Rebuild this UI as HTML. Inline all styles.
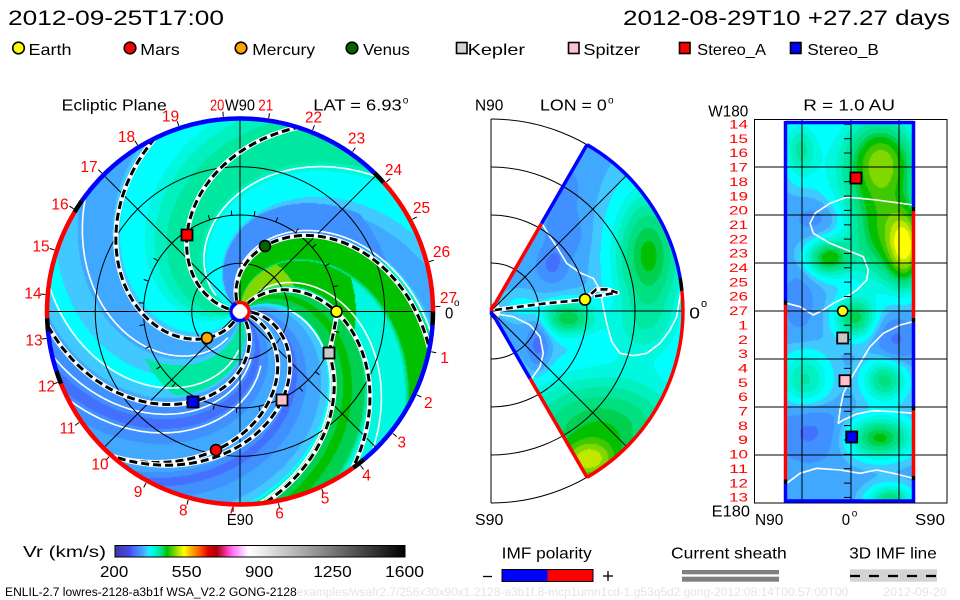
<!DOCTYPE html>
<html><head><meta charset="utf-8"><title>ENLIL</title>
<style>
html,body{margin:0;padding:0;background:#fff;}
#wrap{position:relative;width:960px;height:600px;overflow:hidden;background:#fff;}
#cv,#sv{position:absolute;left:0;top:0;}
#sv text{font-family:"Liberation Sans",Arial,sans-serif;}
</style></head><body>
<div id="wrap">
<canvas id="cv" width="960" height="600"></canvas>
<svg id="sv" width="960" height="600" viewBox="0 0 960 600" xmlns="http://www.w3.org/2000/svg">
<defs>
<clipPath id="disk"><circle cx="240" cy="311.5" r="193.5"/></clipPath>
<linearGradient id="cb" x1="0" x2="1" y1="0" y2="0">
<stop offset="0" stop-color="#3a3a9a"/>
<stop offset="0.021" stop-color="#4040c0"/>
<stop offset="0.05" stop-color="#4848f0"/>
<stop offset="0.071" stop-color="#4878ff"/>
<stop offset="0.093" stop-color="#40a0ff"/>
<stop offset="0.111" stop-color="#40d0ff"/>
<stop offset="0.121" stop-color="#00ffff"/>
<stop offset="0.143" stop-color="#00f0c0"/>
<stop offset="0.161" stop-color="#00e080"/>
<stop offset="0.179" stop-color="#00c000"/>
<stop offset="0.2" stop-color="#60d000"/>
<stop offset="0.221" stop-color="#c0e800"/>
<stop offset="0.239" stop-color="#ffff00"/>
<stop offset="0.257" stop-color="#ffc000"/>
<stop offset="0.279" stop-color="#ff8000"/>
<stop offset="0.3" stop-color="#ff4000"/>
<stop offset="0.321" stop-color="#e00000"/>
<stop offset="0.35" stop-color="#b00000"/>
<stop offset="0.371" stop-color="#d02060"/>
<stop offset="0.389" stop-color="#ff40c0"/>
<stop offset="0.411" stop-color="#ff80ff"/>
<stop offset="0.436" stop-color="#ffc0ff"/>
<stop offset="0.461" stop-color="#ffffff"/>
<stop offset="0.5" stop-color="#f0f0f0"/>
<stop offset="1" stop-color="#000000"/>
</linearGradient>
</defs>

<g id="g1" clip-path="url(#disk)"></g>

<g stroke="#000" stroke-width="1" fill="none">
<circle cx="240" cy="311.5" r="48.25"/>
<circle cx="240" cy="311.5" r="96.5"/>
<circle cx="240" cy="311.5" r="144.75"/>
<line x1="46.5" y1="311.5" x2="433.5" y2="311.5"/>
<line x1="240" y1="118" x2="240" y2="505"/>
<line x1="103.2" y1="174.7" x2="376.8" y2="448.3"/>
<line x1="103.2" y1="448.3" x2="376.8" y2="174.7"/>
</g>

<g id="g2"></g>

<g fill="none" stroke="#fff" stroke-width="1.6" stroke-linejoin="round">
<polyline points="541.7,223.3 550,236.7 556.7,246.7 566.7,263.3 580,272.7 593.3,278.3 600,290 603.3,306.7 606.7,323.3 611.7,341.7 620,353.3 633.3,355.7 646.7,353.3 660,343.3 670,330 676.7,316.7 680,296.7 681.7,286.7"/>
<polyline points="496.7,314 513.3,316.7 530,325 540,336.7 543.3,353.3 540,366.7 531.7,378.3"/>
</g>
<g stroke="#000" stroke-width="1" fill="none">
<path d="M491,263 A48,48 0 0 1 491,359"/>
<path d="M491,215 A96,96 0 0 1 491,407"/>
<path d="M491,167 A144,144 0 0 1 491,455"/>
<path d="M491,119 A192,192 0 0 1 491,503"/>
<line x1="491" y1="119" x2="491" y2="503"/>
<line x1="491" y1="311" x2="683" y2="311"/>
<line x1="491" y1="311" x2="626.8" y2="175.2"/>
<line x1="491" y1="311" x2="626.8" y2="446.8"/>
</g>
<g fill="none" stroke-width="3.5" stroke-linecap="butt">
<line x1="496" y1="302.3" x2="541.5" y2="223.5" stroke="#f00"/>
<line x1="541.5" y1="223.5" x2="587" y2="144.7" stroke="#00f"/>
<path d="M587,144.7 A192,192 0 0 1 680.2,278.3" stroke="#00f"/>
<path d="M680.2,278.3 A192,192 0 0 1 681.9,290.9" stroke="#000"/>
<path d="M681.9,290.9 A192,192 0 0 1 587,477.3" stroke="#f00"/>
<line x1="587" y1="477.3" x2="530" y2="378.5" stroke="#f00"/>
<line x1="530" y1="378.5" x2="496" y2="319.7" stroke="#00f"/>
<path d="M496,302.3 L491.5,308 L491.5,311" stroke="#f00"/>
<path d="M491.5,311 L491.5,314 L496,319.7" stroke="#00f"/>
</g>
<path d="M495,310 L520,306.7 L546.7,303.3 L573.3,300.7 L585,299.5 L596,289.5 L607,289.3 L617.3,292.7 L606,294.5 L594,296.5" fill="none" stroke="#fff" stroke-width="4.5" stroke-linejoin="round"/>
<path d="M495,310 L520,306.7 L546.7,303.3 L573.3,300.7 L585,299.5 L596,289.5 L607,289.3 L617.3,292.7 L606,294.5 L594,296.5" fill="none" stroke="#000" stroke-width="2.6" stroke-dasharray="7 4"/>
<circle cx="585" cy="299.5" r="5.5" fill="#ffff00" stroke="#000" stroke-width="1.6"/>

<g fill="none" stroke="#fff" stroke-width="1.6" stroke-linejoin="round">
<polyline points="786.7,303.3 800,306.7 813.3,315 823.3,310 833.3,303.3 846.7,296.7 856.7,290 866.7,280 868.3,270 863.3,256.7 846.7,250 830,243.3 813.3,233.3 810,223.3 815,213.3 830,203.3 846.7,197.3 860,198.3 876.7,200 896.7,202.7 913.3,205"/>
<polyline points="913.3,321.7 900,325 883.3,333.3 870,346.7 860,363.3 850,380 843.3,393.3 840,410 838.3,423.3 843.3,420 856.7,414 873.3,410.7 893.3,411.7 913.3,413.3"/>
<polyline points="786.7,483.3 800,473.3 816.7,468.3 840,470 860,473.3 876.7,470 893.3,473.3 913.3,478.3"/>
</g>
<g stroke="#000" stroke-width="1" fill="none">
<rect x="754.5" y="119.5" width="192.5" height="383.5"/>
<line x1="754" y1="167" x2="947" y2="167"/>
<line x1="754" y1="215" x2="947" y2="215"/>
<line x1="754" y1="263" x2="947" y2="263"/>
<line x1="754" y1="311" x2="947" y2="311"/>
<line x1="754" y1="359" x2="947" y2="359"/>
<line x1="754" y1="407" x2="947" y2="407"/>
<line x1="754" y1="455" x2="947" y2="455"/>
<line x1="802" y1="119" x2="802" y2="503"/>
<line x1="851" y1="119" x2="851" y2="503"/>
<line x1="899" y1="119" x2="899" y2="503"/>
</g>
<g id="g3" stroke="#000" stroke-width="1"></g>
<g fill="none" stroke-width="3.5">
<line x1="785.5" y1="122.5" x2="913.5" y2="122.5" stroke="#00f"/>
<line x1="785.5" y1="501" x2="913.5" y2="501" stroke="#00f"/>
<line x1="785.5" y1="121" x2="785.5" y2="300.5" stroke="#00f"/>
<line x1="785.5" y1="300.5" x2="785.5" y2="305" stroke="#000"/>
<line x1="785.5" y1="305" x2="785.5" y2="479.5" stroke="#f00"/>
<line x1="785.5" y1="479.5" x2="785.5" y2="484" stroke="#000"/>
<line x1="785.5" y1="484" x2="785.5" y2="502.5" stroke="#00f"/>
<line x1="913.5" y1="121" x2="913.5" y2="206.7" stroke="#00f"/>
<line x1="913.5" y1="206.7" x2="913.5" y2="211" stroke="#000"/>
<line x1="913.5" y1="211" x2="913.5" y2="318" stroke="#f00"/>
<line x1="913.5" y1="318" x2="913.5" y2="322.7" stroke="#000"/>
<line x1="913.5" y1="322.7" x2="913.5" y2="406.7" stroke="#00f"/>
<line x1="913.5" y1="406.7" x2="913.5" y2="410.7" stroke="#000"/>
<line x1="913.5" y1="410.7" x2="913.5" y2="475.7" stroke="#f00"/>
<line x1="913.5" y1="475.7" x2="913.5" y2="480" stroke="#000"/>
<line x1="913.5" y1="480" x2="913.5" y2="502.5" stroke="#00f"/>
</g>
<g stroke="#000" stroke-width="1.8">
<rect x="850.5" y="172.5" width="11" height="11" fill="#ff0000"/>
<circle cx="842.7" cy="311" r="5" fill="#ffff00" stroke-width="1.6"/>
<rect x="837.2" y="332.5" width="11" height="11" fill="#c8c8c8"/>
<rect x="839.5" y="375.2" width="11" height="11" fill="#ffc0cb"/>
<rect x="846.2" y="431.5" width="11" height="11" fill="#0000ff"/>
</g>

<g stroke="#000" stroke-width="1.6">
<circle cx="336.5" cy="311.5" r="5.5" fill="#ffff00"/>
<circle cx="265" cy="246" r="5.5" fill="#006400"/>
<circle cx="207" cy="338" r="5.5" fill="#ffa500"/>
<circle cx="216" cy="450" r="5.5" fill="#ff0000"/>
<rect x="323.5" y="347.5" width="11" height="11" fill="#c8c8c8" stroke-width="1.8"/>
<rect x="276.5" y="394.5" width="11" height="11" fill="#ffc0cb" stroke-width="1.8"/>
<rect x="181.5" y="229.5" width="11" height="11" fill="#ff0000" stroke-width="1.8"/>
<rect x="187.5" y="396.5" width="11" height="11" fill="#0000ff" stroke-width="1.8"/>
</g>

<text x="8" y="25" font-size="21" textLength="216" lengthAdjust="spacingAndGlyphs">2012-09-25T17:00</text>
<text x="623" y="25" font-size="21" textLength="327" lengthAdjust="spacingAndGlyphs">2012-08-29T10 +27.27 days</text>

<g stroke="#000" stroke-width="1.6">
<circle cx="18.5" cy="48" r="5.8" fill="#ffff00"/>
<circle cx="130" cy="48" r="5.8" fill="#ff0000"/>
<circle cx="241" cy="48" r="5.8" fill="#ffa500"/>
<circle cx="352" cy="48" r="5.8" fill="#006400"/>
<rect x="456.5" y="42.5" width="10.5" height="11" fill="#d3d3d3"/>
<rect x="568.5" y="42.5" width="10.5" height="11" fill="#ffc0cb"/>
<rect x="679.5" y="42.5" width="10.5" height="11" fill="#ff0000"/>
<rect x="790.5" y="42.5" width="10.5" height="11" fill="#0000ff"/>
</g>
<g font-size="16">
<text x="28.5" y="55" textLength="43" lengthAdjust="spacingAndGlyphs">Earth</text>
<text x="140.3" y="55" textLength="39.4" lengthAdjust="spacingAndGlyphs">Mars</text>
<text x="252.3" y="55" textLength="62.7" lengthAdjust="spacingAndGlyphs">Mercury</text>
<text x="363" y="55" textLength="46.8" lengthAdjust="spacingAndGlyphs">Venus</text>
<text x="467.7" y="55" textLength="57.3" lengthAdjust="spacingAndGlyphs">Kepler</text>
<text x="583.4" y="55" textLength="56.6" lengthAdjust="spacingAndGlyphs">Spitzer</text>
<text x="697.2" y="55" textLength="68.8" lengthAdjust="spacingAndGlyphs">Stereo_A</text>
<text x="807.4" y="55" textLength="71.4" lengthAdjust="spacingAndGlyphs">Stereo_B</text>
</g>

<g font-size="16">
<text x="61.7" y="110.7" textLength="105" lengthAdjust="spacingAndGlyphs">Ecliptic Plane</text>
<text x="225" y="110.7" textLength="30" lengthAdjust="spacingAndGlyphs">W90</text>
<text x="210" y="110.7" textLength="14.3" lengthAdjust="spacingAndGlyphs" fill="#f00">20</text>
<text x="258.3" y="110.7" textLength="15" lengthAdjust="spacingAndGlyphs" fill="#f00">21</text>
<text x="313.3" y="110.7" textLength="88.4" lengthAdjust="spacingAndGlyphs">LAT = 6.93</text>
<text x="402.7" y="103.5" font-size="10">o</text>
<text x="445" y="318.3" textLength="8.3" lengthAdjust="spacingAndGlyphs">0</text>
<text x="454" y="306" font-size="10">o</text>
</g>
<g font-size="15.5" fill="#f00" text-anchor="middle">
<text x="33" y="298.5">14</text>
<text x="41" y="251.5">15</text>
<text x="60" y="209.5">16</text>
<text x="89" y="172">17</text>
<text x="126.5" y="141.8">18</text>
<text x="170.5" y="121.5">19</text>
<text x="313.5" y="122.7">22</text>
<text x="356.5" y="143.5">23</text>
<text x="393.5" y="175">24</text>
<text x="421.5" y="213">25</text>
<text x="441.5" y="257.2">26</text>
<text x="448.5" y="303">27</text>
<text x="444.5" y="363">1</text>
<text x="428.3" y="408">2</text>
<text x="401.7" y="447.5">3</text>
<text x="366.5" y="480.5">4</text>
<text x="325" y="503.5">5</text>
<text x="279.5" y="518.5">6</text>
<text x="232" y="513.5">7</text>
<text x="183.3" y="515.5">8</text>
<text x="138" y="497.2">9</text>
<text x="100" y="469.5">10</text>
<text x="67.5" y="433.5">11</text>
<text x="46.5" y="391.5">12</text>
<text x="34" y="345.5">13</text>
</g>
<text x="226.7" y="525" font-size="16" textLength="26.6" lengthAdjust="spacingAndGlyphs">E90</text>

<g font-size="16">
<text x="475" y="110.7" textLength="28.3" lengthAdjust="spacingAndGlyphs">N90</text>
<text x="540" y="110.7" textLength="66.7" lengthAdjust="spacingAndGlyphs">LON = 0</text>
<text x="608" y="103.5" font-size="10">o</text>
<text x="475" y="525" textLength="28.3" lengthAdjust="spacingAndGlyphs">S90</text>
<text x="689.3" y="318.3" textLength="10.7" lengthAdjust="spacingAndGlyphs">0</text>
<text x="701" y="307" font-size="11">o</text>
</g>

<g font-size="16">
<text x="803.3" y="110.7" textLength="91.7" lengthAdjust="spacingAndGlyphs">R = 1.0 AU</text>
<text x="708.3" y="116.7" textLength="40" lengthAdjust="spacingAndGlyphs">W180</text>
<text x="711.7" y="516.7" textLength="38.3" lengthAdjust="spacingAndGlyphs">E180</text>
<text x="755" y="525" textLength="28.3" lengthAdjust="spacingAndGlyphs">N90</text>
<text x="841.7" y="525" textLength="8.3" lengthAdjust="spacingAndGlyphs">0</text>
<text x="851.7" y="516.5" font-size="10">o</text>
<text x="915" y="525" textLength="30" lengthAdjust="spacingAndGlyphs">S90</text>
</g>
<g font-size="12" fill="#f00">
<text x="729" y="128.5" textLength="19" lengthAdjust="spacingAndGlyphs">14</text>
<text x="729" y="142.85" textLength="19" lengthAdjust="spacingAndGlyphs">15</text>
<text x="729" y="157.2" textLength="19" lengthAdjust="spacingAndGlyphs">16</text>
<text x="729" y="171.55" textLength="19" lengthAdjust="spacingAndGlyphs">17</text>
<text x="729" y="185.9" textLength="19" lengthAdjust="spacingAndGlyphs">18</text>
<text x="729" y="200.25" textLength="19" lengthAdjust="spacingAndGlyphs">19</text>
<text x="729" y="214.6" textLength="19" lengthAdjust="spacingAndGlyphs">20</text>
<text x="729" y="228.95" textLength="19" lengthAdjust="spacingAndGlyphs">21</text>
<text x="729" y="243.3" textLength="19" lengthAdjust="spacingAndGlyphs">22</text>
<text x="729" y="257.65" textLength="19" lengthAdjust="spacingAndGlyphs">23</text>
<text x="729" y="272" textLength="19" lengthAdjust="spacingAndGlyphs">24</text>
<text x="729" y="286.35" textLength="19" lengthAdjust="spacingAndGlyphs">25</text>
<text x="729" y="300.7" textLength="19" lengthAdjust="spacingAndGlyphs">26</text>
<text x="729" y="315.05" textLength="19" lengthAdjust="spacingAndGlyphs">27</text>
<text x="738" y="329.4" textLength="10" lengthAdjust="spacingAndGlyphs">1</text>
<text x="738" y="343.75" textLength="10" lengthAdjust="spacingAndGlyphs">2</text>
<text x="738" y="358.1" textLength="10" lengthAdjust="spacingAndGlyphs">3</text>
<text x="738" y="372.45" textLength="10" lengthAdjust="spacingAndGlyphs">4</text>
<text x="738" y="386.8" textLength="10" lengthAdjust="spacingAndGlyphs">5</text>
<text x="738" y="401.15" textLength="10" lengthAdjust="spacingAndGlyphs">6</text>
<text x="738" y="415.5" textLength="10" lengthAdjust="spacingAndGlyphs">7</text>
<text x="738" y="429.85" textLength="10" lengthAdjust="spacingAndGlyphs">8</text>
<text x="738" y="444.2" textLength="10" lengthAdjust="spacingAndGlyphs">9</text>
<text x="729" y="458.55" textLength="19" lengthAdjust="spacingAndGlyphs">10</text>
<text x="729" y="472.9" textLength="19" lengthAdjust="spacingAndGlyphs">11</text>
<text x="729" y="487.25" textLength="19" lengthAdjust="spacingAndGlyphs">12</text>
<text x="729" y="501.6" textLength="19" lengthAdjust="spacingAndGlyphs">13</text>
</g>

<text x="23" y="557" font-size="16" textLength="83" lengthAdjust="spacingAndGlyphs">Vr (km/s)</text>
<rect x="115" y="545.5" width="290" height="11.5" fill="url(#cb)" stroke="#000" stroke-width="1"/>
<g font-size="16">
<text x="100" y="577" textLength="28.3" lengthAdjust="spacingAndGlyphs">200</text>
<text x="171.7" y="577" textLength="30" lengthAdjust="spacingAndGlyphs">550</text>
<text x="245" y="577" textLength="28.3" lengthAdjust="spacingAndGlyphs">900</text>
<text x="313.3" y="577" textLength="38.4" lengthAdjust="spacingAndGlyphs">1250</text>
<text x="385" y="577" textLength="39" lengthAdjust="spacingAndGlyphs">1600</text>
<text x="501.7" y="558.7" textLength="90" lengthAdjust="spacingAndGlyphs">IMF polarity</text>
<text x="671" y="558.7" textLength="115.7" lengthAdjust="spacingAndGlyphs">Current sheath</text>
<text x="849.3" y="558.7" textLength="87.4" lengthAdjust="spacingAndGlyphs">3D IMF line</text>
</g>
<rect x="502" y="569.5" width="45.5" height="12" fill="#0000ff"/>
<rect x="547.5" y="569.5" width="45.5" height="12" fill="#ff0000"/>
<rect x="502" y="569.5" width="91" height="12" fill="none" stroke="#000" stroke-width="1"/>
<line x1="483" y1="576.5" x2="492" y2="576.5" stroke="#000" stroke-width="1.3"/>
<line x1="603" y1="576" x2="613" y2="576" stroke="#000" stroke-width="1.3"/>
<line x1="608" y1="571" x2="608" y2="581" stroke="#000" stroke-width="1.3"/>
<rect x="682" y="570" width="97" height="4.3" fill="#808080"/>
<rect x="682" y="576.7" width="97" height="5" fill="#808080"/>
<rect x="850" y="569.3" width="87" height="12.4" fill="#d3d3d3"/>
<line x1="850" y1="576" x2="937" y2="576" stroke="#000" stroke-width="2.2" stroke-dasharray="10 9"/>

<text x="5" y="596" font-size="11.5" textLength="291.7" lengthAdjust="spacingAndGlyphs">ENLIL-2.7 lowres-2128-a3b1f WSA_V2.2 GONG-2128</text>
<text x="296.5" y="596" font-size="11.5" fill="#e4e4e4" textLength="551.8" lengthAdjust="spacingAndGlyphs">examples/wsafr2.7/256x30x90x1.2128-a3b1f.8-mcp1umn1cd-1.g53q5d2.gong-2012:08:14T00:57:00T00</text>
<text x="883.3" y="596" font-size="11.5" fill="#e4e4e4" textLength="63.4" lengthAdjust="spacingAndGlyphs">2012-09-20</text>
</svg>
</div>
<script>
(function(){
var cv=document.getElementById('cv');var ctx=cv.getContext('2d');
var img=ctx.createImageData(960,600);var D=img.data;
var P=[[-1e9,[60,60,180]],[262,[64,80,232]],[292,[68,112,255]],[316,[64,144,255]],[336,[64,168,255]],[351,[64,200,255]],[362,[0,255,255]],[378,[0,248,224]],[392,[0,240,192]],[406,[0,232,160]],[421,[0,224,128]],[437,[0,208,80]],[450,[0,192,0]],[470,[64,200,0]],[488,[128,216,0]],[508,[192,232,0]],[528,[255,255,0]],[560,[255,192,0]]];
function pc(v){var c=P[0][1];for(var i=1;i<P.length;i++){if(v>=P[i][0])c=P[i][1];else break;}return c;}
function put(x,y,c){var i=(y*960+x)*4;D[i]=c[0];D[i+1]=c[1];D[i+2]=c[2];D[i+3]=255;}
var T=[[0,312],[10,320],[14,338],[22,345],[29,356],[33,366],[34.5,440],[45,452],[55,448],[59,440],[62,385],[88,392],[91,452],[106,456],[111,448],[113,370],[117,342],[128,338],[133,352],[141,360],[146,370],[160,374],[165,398],[170,418],[190,420],[202,402],[212,388],[220,372],[234,366],[242,350],[252,344],[262,348],[272,355],[282,362],[290,366],[298,356],[304,344],[310,326],[318,314],[330,318],[336,340],[346,345],[354,342],[360,312]];
function interp(p){for(var i=1;i<T.length;i++){if(p<=T[i][0]){var a=T[i-1],b=T[i];return a[1]+(b[1]-a[1])*(p-a[0])/(b[0]-a[0]);}}return T[T.length-1][1];}
function vL(r,th){var p=th+60*r;p=((p%360)+360)%360;var v=interp(p);
 if(p>62&&p<89){if(r<0.62)v=490;else if(r<1.2)v=455;}
 if(p>113&&p<140-8*Math.max(0,r-1)&&r<1.6)v=322;
 if(p>272&&p<298&&r<1.1)v=412;
 return v;}
var x,y,dx,dy,rp,th;
for(y=116;y<508;y++)for(x=44;x<437;x++){dx=x+0.5-240;dy=311.5-(y+0.5);rp=Math.sqrt(dx*dx+dy*dy);if(rp>194)continue;th=Math.atan2(dy,dx)*180/Math.PI;put(x,y,pc(vL(rp/96.5,th)));}
function blob(B,base,x,y){var v=base;for(var i=0;i<B.length;i++){var b=B[i];var u=(x-b[0])/b[2],w=(y-b[1])/b[3];v+=b[4]*Math.exp(-0.5*(u*u+w*w));}return v;}
var BM=[[648,255,24,45,95],[655,265,30,60,15],[568,318,18,12,100],[600,430,60,40,105],[588,462,20,14,105],[538,345,8,18,-45],[552,265,10,12,-35],[565,235,12,15,-28],[560,190,15,20,-22],[520,305,15,10,20],[640,330,30,20,25]];
for(y=118;y<505;y++)for(x=490;x<686;x++){dx=x+0.5-491;dy=311-(y+0.5);rp=Math.sqrt(dx*dx+dy*dy);if(rp<9.5||rp>192)continue;var a=Math.atan2(dy,dx)*180/Math.PI;if(Math.abs(a)>60)continue;put(x,y,pc(blob(BM,346,x+0.5,y+0.5)));}
var BR=[[883,160,22,25,100],[870,185,35,55,60],[800,150,12,20,60],[906,248,12,25,140],[885,235,22,35,80],[828,258,15,12,105],[822,218,20,15,-30],[855,318,14,14,95],[895,340,15,18,-35],[805,380,18,20,65],[885,380,15,15,85],[810,430,22,20,-35],[880,438,22,14,110],[890,500,15,10,90],[800,300,12,25,-20]];
for(y=123;y<501;y++)for(x=787;x<913;x++){put(x,y,pc(blob(BR,345,x+0.5,y+0.5)));}
ctx.putImageData(img,0,0);

var NS='http://www.w3.org/2000/svg';
function el(tag,at,par){var e=document.createElementNS(NS,tag);for(var k in at)e.setAttribute(k,at[k]);par.appendChild(e);return e;}
var CX=240,CY=311.5,S=96.5;
function sp(p0,K,r0,r1){var s='';for(var r=r0;r<=r1+1e-6;r+=0.015){var t=(p0-K*r)*Math.PI/180;s+=(s?'L':'M')+(CX+S*r*Math.cos(t)).toFixed(1)+','+(CY-S*r*Math.sin(t)).toFixed(1);}return s;}
var g1=document.getElementById('g1'),g2=document.getElementById('g2'),g3=document.getElementById('g3');
var HCS=[[119,63,0.3,2.0],[63,55,0.3,2.0],[31,58,0.5,2.0],[164,60,0.3,2.0],[263,60,0.3,2.0],[292,60,0.4,2.0],[313,60,0.5,2.0],[327,60,0.6,2.0]];
HCS.forEach(function(h){el('path',{d:sp(h[0],h[1],h[2],h[3]),fill:'none',stroke:'#fff','stroke-width':1.6},g1);});
var DL=[[53.7,54,0.12,2.0],[114.7,62.9,0.12,2.0],[247.6,65.7,0.12,2.0],[173.3,50.4,0.12,2.0],[307.6,61.8,0.12,2.0],[344.4,57.8,0.12,2.0],[4.5,68,0.12,2.0],[34.6,58.6,1.0,2.0]];
var gd=el('g',{'clip-path':'url(#disk)'},g2);
DL.forEach(function(h){var d=sp(h[0],h[1],h[2],h[3]);el('path',{d:d,fill:'none',stroke:'#fff','stroke-width':5},gd);el('path',{d:d,fill:'none',stroke:'#000','stroke-width':3,'stroke-dasharray':'8 4'},gd);});
var kd='M329,353 Q334,332 336.5,316';
el('path',{d:kd,fill:'none',stroke:'#fff','stroke-width':5},gd);el('path',{d:kd,fill:'none',stroke:'#000','stroke-width':3,'stroke-dasharray':'8 4'},gd);
function arc(cx,cy,r,a0,a1){var s='';for(var a=a0;a<=a1+1e-6;a+=0.5){var t=a*Math.PI/180;s+=(s?'L':'M')+(cx+r*Math.cos(t)).toFixed(1)+','+(cy-r*Math.sin(t)).toFixed(1);}return s;}
var RIM=[[0,42,'#f00'],[42,46,'#000'],[46,145,'#00f'],[145,149,'#000'],[149,182,'#f00'],[182,186,'#000'],[186,198,'#00f'],[198,202,'#000'],[202,306,'#f00'],[306,310,'#000'],[310,356,'#00f'],[356,360,'#000']];
RIM.forEach(function(s){el('path',{d:arc(CX,CY,193,s[0],s[1]),fill:'none',stroke:s[2],'stroke-width':4.5},g2);});
for(var k=0;k<27;k++){var t=(175-13.35*k)*Math.PI/180,c=Math.cos(t),s=Math.sin(t);
 el('line',{x1:(CX+195.5*c).toFixed(1),y1:(CY-195.5*s).toFixed(1),x2:(CX+200.5*c).toFixed(1),y2:(CY-200.5*s).toFixed(1),stroke:'#000','stroke-width':1},g2);
 el('line',{x1:(CX+96.5*c).toFixed(1),y1:(CY-96.5*s).toFixed(1),x2:(CX+101.5*c).toFixed(1),y2:(CY-101.5*s).toFixed(1),stroke:'#000','stroke-width':1},g2);}
el('circle',{cx:CX,cy:CY,r:9,fill:'#fff'},g2);
el('path',{d:arc(CX,CY,9,-60,120),fill:'none',stroke:'#f00','stroke-width':3},g2);
el('path',{d:arc(CX,CY,9,120,300),fill:'none',stroke:'#00f','stroke-width':3},g2);
for(var i=0;i<27;i++){var yy=124.3+i*14.35;el('line',{x1:844,y1:yy.toFixed(1),x2:851,y2:yy.toFixed(1)},g3);}
})();
</script>
</body></html>
